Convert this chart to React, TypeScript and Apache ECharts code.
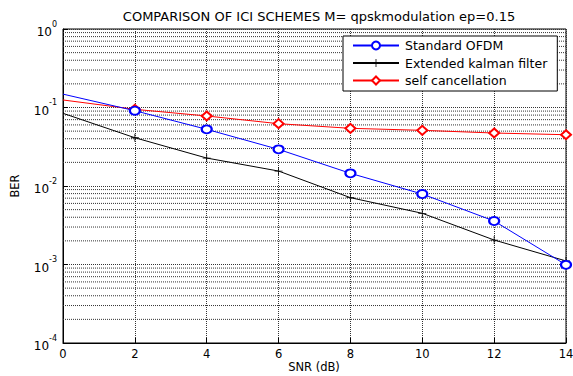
import React, { useEffect, useRef } from "react";
import * as echarts from "echarts";

const snr = [0, 2, 4, 6, 8, 10, 12, 14];
const standardOfdm = [0.148, 0.091, 0.0527, 0.0293, 0.0145, 0.0079, 0.00358, 0.00099];
const kalman = [0.0843, 0.0412, 0.0227, 0.0155, 0.0071, 0.00449, 0.00205, 0.00111];
const selfCancel = [0.1247, 0.0948, 0.078, 0.0622, 0.0543, 0.0512, 0.0473, 0.045];
const decades = [-4, -3, -2, -1];
const minorMultipliers = [2, 3, 4, 5, 6, 7, 8, 9];

const FONT = "DejaVu Sans, Liberation Sans, Arial, sans-serif";
const plusPath = "path://M4.5,0h1v4.5h4.5v1h-4.5v4.5h-1v-4.5h-4.5v-1h4.5z";

function toData(vals: number[]) {
  return snr.map((x, i) =>
    i === 0 ? { value: [x, vals[i]], symbol: "none" } : { value: [x, vals[i]] }
  );
}

export default function App() {
  const ref = useRef<HTMLDivElement>(null);
  useEffect(() => {
    if (!ref.current) return;
    const chart = echarts.init(ref.current, undefined, { renderer: "svg" });
    const xMin = snr[0];
    const xMax = snr[snr.length - 1];
    const minorData: any[] = [];
    decades.forEach((d) =>
      minorMultipliers.forEach((m) => {
        const v = m * Math.pow(10, d);
        minorData.push([xMin, v], [xMax, v], "-");
      })
    );
    const gridLine = { color: "#333", type: [1, 1] as any, width: 1 };
    chart.setOption({
      animation: false,
      backgroundColor: "#fff",
      textStyle: { fontFamily: FONT },
      title: {
        text: "COMPARISON OF ICI SCHEMES M= qpskmodulation ep=0.15",
        left: 314,
        textAlign: "center",
        top: 5,
        textStyle: { fontSize: 13, fontWeight: "normal", color: "#000", fontFamily: FONT },
      },
      graphic: [
        {
          type: "text",
          x: 314,
          y: 367,
          style: {
            text: "SNR (dB)",
            fill: "#000",
            fontSize: 11.5,
            fontFamily: FONT,
            align: "center",
            verticalAlign: "middle",
          },
        },
      ],
      grid: {
        left: 63,
        right: 7,
        top: 29,
        bottom: 33,
        containLabel: false,
        outerBoundsMode: "none",
        show: true,
        borderColor: "#000",
        borderWidth: 1,
        backgroundColor: "#fff",
      },
      legend: {
        orient: "vertical",
        left: 343,
        top: 36,
        padding: [3, 10, 4, 9],
        itemGap: 4.5,
        itemWidth: 46,
        itemHeight: 10,
        backgroundColor: "#fff",
        borderColor: "#000",
        borderWidth: 1,
        textStyle: { fontSize: 12.5, color: "#000", fontFamily: FONT, padding: [0, 0, 0, 1] },
        data: ["Standard OFDM", "Extended kalman filter", "self cancellation"],
      },
      xAxis: {
        type: "value",
        min: 0,
        max: 14,
        interval: 2,
        axisLine: { show: true, onZero: false, lineStyle: { color: "#000" } },
        axisTick: { show: true, inside: true, length: 5, lineStyle: { color: "#000" } },
        axisLabel: { fontSize: 11.5, color: "#000", margin: 5, fontFamily: FONT },
        splitLine: { show: true, lineStyle: gridLine },
      },
      yAxis: {
        type: "log",
        logBase: 10,
        min: 0.0001,
        max: 1,
        name: "BER",
        nameLocation: "middle",
        nameGap: 42,
        nameTextStyle: { fontSize: 11.5, color: "#000", fontFamily: FONT },
        axisLine: { show: true, lineStyle: { color: "#000" } },
        axisTick: { show: true, inside: true, length: 5, lineStyle: { color: "#000" } },
        axisLabel: {
          color: "#000",
          margin: 6,
          fontFamily: FONT,
          formatter: (v: number) => "{b|10}{s|" + Math.round(Math.log10(v)) + "}",
          rich: {
            b: { fontSize: 12, color: "#000", fontFamily: FONT, verticalAlign: "bottom", lineHeight: 18 },
            s: { fontSize: 8, color: "#000", fontFamily: FONT, verticalAlign: "top", lineHeight: 18 },
          },
        },
        splitLine: { show: true, lineStyle: gridLine },
      },
      series: [
        {
          name: "minor grid",
          type: "line",
          data: minorData,
          symbol: "none",
          silent: true,
          connectNulls: false,
          lineStyle: gridLine,
          z: 1,
          legendHoverLink: false,
        },
        {
          name: "Standard OFDM",
          type: "line",
          data: toData(standardOfdm),
          symbol: "emptyCircle",
          symbolSize: [10, 8],
          lineStyle: { color: "#0000ff", width: 1 },
          itemStyle: { color: "#0000ff", borderColor: "#0000ff", borderWidth: 0.8 },
          z: 5,
        },
        {
          name: "Extended kalman filter",
          type: "line",
          data: toData(kalman),
          symbol: plusPath,
          symbolSize: 8,
          lineStyle: { color: "#000", width: 1 },
          itemStyle: { color: "#000", borderWidth: 0 },
          z: 4,
        },
        {
          name: "self cancellation",
          type: "line",
          data: toData(selfCancel),
          symbol: "emptyDiamond",
          symbolSize: [10, 9],
          lineStyle: { color: "#ff0000", width: 1 },
          itemStyle: { color: "#ff0000", borderColor: "#ff0000", borderWidth: 0.8 },
          z: 3,
        },
      ],
    });
    return () => chart.dispose();
  }, []);
  return (
    <div
      ref={ref}
      style={{ position: "fixed", left: 0, top: 0, width: 573, height: 376 }}
    />
  );
}
